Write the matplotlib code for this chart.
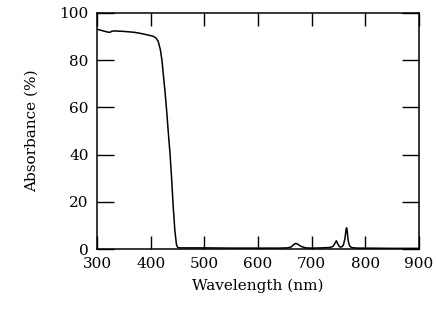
import matplotlib
matplotlib.use("Agg")
import matplotlib.pyplot as plt

# wavelength (nm) and absorbance (%)
wavelength = [300, 305, 310, 315, 320, 324, 328, 332, 340, 350, 360, 370, 380, 390,
              400, 405, 410, 414, 418, 421, 424, 427, 430, 433, 436, 439, 442, 445,
              448, 450, 453, 460, 500, 550, 600, 640, 655, 662, 666, 670, 674, 678,
              684, 690, 700, 720, 735, 740, 743, 746, 749, 752, 756, 759, 762, 764,
              765, 766, 768, 771, 775, 785, 800, 850, 900]
absorbance = [93.1, 92.8, 92.5, 92.2, 91.9, 91.8, 92.3, 92.4, 92.3, 92.2, 92.0, 91.8, 91.4, 90.9,
              90.4, 90.1, 89.4, 88.0, 84.5, 80.0, 73.0, 66.0, 58.0, 49.0, 40.5, 30.0, 18.0, 8.0,
              2.0, 0.8, 0.5, 0.5, 0.5, 0.4, 0.4, 0.4, 0.5, 0.9, 1.8, 2.4, 2.1, 1.4,
              0.8, 0.5, 0.4, 0.5, 0.7, 1.2, 2.3, 3.5, 2.0, 0.9, 0.9, 1.6, 4.5, 8.0,
              9.0, 8.0, 3.5, 1.2, 0.6, 0.4, 0.4, 0.3, 0.3]

xticks = [300, 400, 500, 600, 700, 800, 900]
yticks = [0, 20, 40, 60, 80, 100]

plt.rcParams['font.family'] = ['DejaVu Serif']

fig = plt.figure(figsize=(4.36, 3.09), dpi=100)
ax = fig.add_axes([0.2225, 0.194, 0.7385, 0.764])
ax.plot(wavelength, absorbance, color="black", linewidth=1.1)

ax.set_xlim(300, 900)
ax.set_ylim(0, 100)
ax.set_xticks(xticks)
ax.set_yticks(yticks)
ax.tick_params(direction="in", width=1.0, top=True, right=True, labelsize=11)
ax.tick_params(axis="x", length=9.5, pad=6)
ax.tick_params(axis="y", length=12, pad=6)
for s in ax.spines.values():
    s.set_linewidth(1.1)

ax.set_xlabel("Wavelength (nm)", fontsize=11, labelpad=5)
ax.set_ylabel("Absorbance (%)", fontsize=11, labelpad=15)

fig.savefig("out.png", dpi=100)
